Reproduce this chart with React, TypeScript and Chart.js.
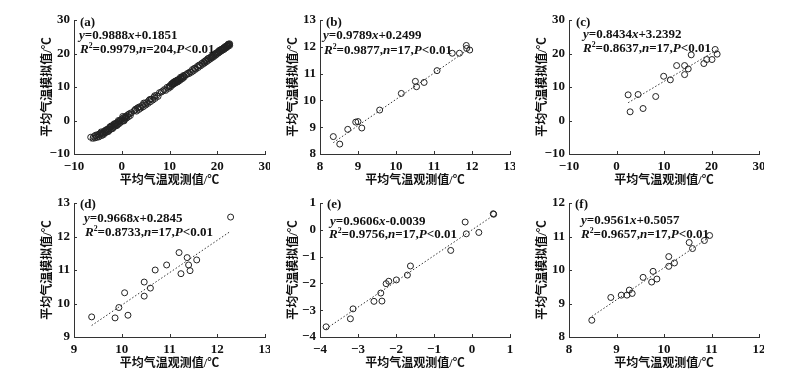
import React, { useEffect, useRef } from 'react';
import { Chart, registerables } from 'chart.js';

Chart.register(...registerables);

// ---------- data ----------
const aObs = [
  -6.5, -5.9, -5.6, -5.3, -5.0, -4.8, -4.6, -4.4, -4.2, -4.0, -3.9, -3.7, -3.5, -3.4, -3.2, -3.0, -2.9, -2.7, -2.6, -2.4,
  -2.3, -2.1, -2.0, -1.8, -1.7, -1.5, -1.4, -1.2, -1.1, -0.9, -0.8, -0.6, -0.5, -0.3, -0.2, 0.0, 0.1, 0.3, 0.4, 0.6,
  0.7, 0.9, 1.0, 1.2, 1.4, 1.6, 1.8, 2.0, -4.3, -3.3, -2.5, -1.6, -0.7, 0.2, -5.2, -3.8, -2.8, -1.9, -1.0, 0.5,
  -6.0, -5.5, -4.7, -4.1, -3.6, -3.1, -2.2, -1.3, -0.4, 0.8, 1.5,
  2.6, 2.9, 3.1, 3.3, 3.6, 3.8, 4.0, 4.3, 4.5, 4.8, 5.0, 5.2, 5.5, 5.7, 6.0, 6.2, 6.5, 6.8, 7.0, 7.3, 7.6, 7.9, 4.6, 5.9, 6.9, 3.5, 2.8,
  8.3, 8.6, 8.9, 9.2, 9.5, 9.8, 9.9,
  10.1, 10.2, 10.4, 10.5, 10.7, 10.8, 10.9, 11.0, 11.1, 11.2, 11.3, 11.4, 11.6, 11.7, 11.8, 11.9, 12.1, 12.2, 12.4, 12.5,
  12.7, 12.8, 12.9, 13.1, 13.3, 10.6, 11.5, 12.3, 13.0,
  13.6, 13.8, 14.1, 14.3, 14.6, 14.8, 15.0, 15.3, 15.5, 15.8, 16.0, 16.3, 16.5, 16.8, 17.0, 15.2, 16.1,
  17.2, 17.4, 17.6, 17.8, 18.0, 18.2, 18.4, 18.6, 18.8, 19.0, 19.2, 19.3, 19.5, 19.7, 19.9, 20.0, 20.2, 20.3, 20.5, 20.6,
  20.8, 20.9, 21.0, 21.1, 21.3, 21.4, 21.5, 21.6, 21.8, 21.9, 22.0, 22.1, 22.2, 22.3, 22.5, 22.6, 20.4, 21.2, 21.7, 19.6,
  18.9, 20.7, 22.4,
  17.5, 18.1, 18.7, 19.4, 20.1, 20.8, 21.4, 22.0, 22.3, 22.6,
];
const aSim = [
  -5.0, -4.8, -5.2, -4.6, -4.2, -4.9, -4.3, -3.8, -4.5, -3.6, -4.0, -3.2, -3.7, -3.0, -3.5, -2.6, -3.1, -2.4, -2.9, -2.0,
  -2.6, -1.8, -2.3, -1.5, -2.0, -1.2, -1.7, -0.8, -1.4, -0.6, -1.1, -0.3, -0.9, 0.1, -0.5, 0.4, -0.2, 0.8, 0.1, 1.0,
  0.5, 1.3, 0.7, 1.6, 1.1, 2.0, 1.5, 2.3, -3.4, -2.8, -1.9, -1.0, 0.0, 1.2, -5.0, -4.2, -3.3, -2.4, -1.5, -0.1,
  -5.3, -4.4, -4.0, -3.9, -3.4, -2.9, -1.6, -1.2, -0.2, 0.9, 1.9,
  2.9, 3.4, 2.8, 3.7, 3.3, 4.1, 3.7, 4.5, 4.1, 5.0, 4.6, 5.4, 5.1, 6.0, 5.6, 6.4, 6.1, 7.0, 6.6, 7.5, 7.2, 8.3, 5.2, 6.3, 7.4, 3.9, 3.1,
  8.5, 8.8, 9.2, 9.0, 9.9, 9.6, 10.1,
  10.4, 10.0, 10.9, 10.5, 11.2, 10.8, 11.5, 11.0, 11.6, 11.2, 11.8, 11.4, 12.0, 11.5, 12.2, 11.8, 12.4, 12.0, 12.7, 12.4,
  13.0, 12.6, 13.4, 13.0, 13.6, 11.0, 11.9, 12.9, 13.2,
  13.7, 14.1, 14.0, 14.5, 14.4, 15.2, 14.8, 15.6, 15.3, 16.1, 15.8, 16.6, 16.3, 17.1, 16.8, 15.5, 16.4,
  17.5, 17.2, 17.9, 17.6, 18.4, 18.0, 18.7, 18.4, 19.2, 18.8, 19.5, 19.1, 19.8, 19.5, 20.2, 19.9, 20.5, 20.2, 20.8, 20.5,
  21.1, 20.8, 21.3, 21.0, 21.6, 21.2, 21.8, 21.5, 22.0, 21.7, 22.3, 22.0, 22.5, 22.2, 22.7, 22.4, 20.9, 21.4, 22.1, 20.0,
  19.0, 21.0, 22.6,
  17.8, 18.5, 18.9, 19.7, 20.4, 21.2, 21.7, 22.2, 22.8, 22.9,
];
const bObs = [8.35, 8.52, 8.73, 8.94, 9.0, 9.1, 9.57, 10.14, 10.51, 10.54, 10.74, 11.08, 11.48, 11.67, 11.85, 11.86, 11.94];
const bSim = [8.65, 8.37, 8.92, 9.19, 9.21, 8.97, 9.64, 10.26, 10.71, 10.51, 10.67, 11.11, 11.76, 11.76, 12.05, 11.94, 11.88];
const cObs = [2.45, 2.87, 4.55, 5.59, 8.25, 9.93, 11.33, 12.66, 14.34, 14.34, 15.1, 15.73, 18.39, 19.0, 20.1, 20.77, 21.19];
const cSim = [7.66, 2.59, 7.76, 3.58, 7.16, 13.2, 12.14, 16.4, 16.4, 13.7, 15.4, 19.6, 17.0, 18.2, 18.2, 21.2, 19.8];
const dObs = [9.37, 9.86, 9.94, 10.06, 10.13, 10.47, 10.47, 10.6, 10.7, 10.94, 11.2, 11.24, 11.37, 11.4, 11.43, 11.57, 12.28];
const dSim = [9.6, 9.57, 9.88, 10.32, 9.65, 10.64, 10.22, 10.46, 11.0, 11.15, 11.52, 10.89, 11.37, 11.15, 10.98, 11.3, 12.58];
const eObs = [-3.84, -3.2, -3.13, -2.58, -2.37, -2.4, -2.26, -2.19, -1.99, -1.7, -1.62, -0.56, -0.18, -0.15, 0.18, 0.56, 0.57];
const eSim = [-3.62, -3.32, -2.95, -2.67, -2.66, -2.36, -2.01, -1.92, -1.87, -1.69, -1.35, -0.77, 0.29, -0.15, -0.1, 0.6, 0.58];
const fObs = [8.48, 8.88, 9.1, 9.22, 9.27, 9.33, 9.56, 9.74, 9.77, 9.85, 10.1, 10.1, 10.22, 10.53, 10.6, 10.85, 10.96];
const fSim = [8.5, 9.18, 9.25, 9.25, 9.4, 9.3, 9.78, 9.64, 9.96, 9.73, 10.4, 10.11, 10.21, 10.82, 10.64, 10.88, 11.03];

const panelObs = [aObs, bObs, cObs, dObs, eObs, fObs];
const panelSim = [aSim, bSim, cSim, dSim, eSim, fSim];
const panelLabels = ['(a)', '(b)', '(c)', '(d)', '(e)', '(f)'];
const slopes = ['0.9888', '0.9789', '0.8434', '0.9668', '0.9606', '0.9561'];
const intercepts = ['+0.1851', '+0.2499', '+3.2392', '+0.2845', '-0.0039', '+0.5057'];
const r2Values = ['0.9979', '0.9877', '0.8637', '0.8733', '0.9756', '0.9657'];
const nValues = ['204', '17', '17', '17', '17', '17'];
const axisMin = [-10, 8, -10, 9, -4, 8];
const axisMax = [30, 13, 30, 13, 1, 12];
const axisStep = [10, 1, 10, 1, 1, 1];
const xTitle = '平均气温观测值/℃';
const yTitle = '平均气温模拟值/℃';

// ---------- layout / style ----------
const PANEL_BOXES = [
  { L: 74, T: 20, R: 266, B: 154 },
  { L: 320, T: 20, R: 511, B: 154 },
  { L: 569, T: 20, R: 760, B: 154 },
  { L: 74, T: 203, R: 266, B: 337 },
  { L: 320, T: 203, R: 511, B: 337 },
  { L: 569, T: 203, R: 760, B: 337 },
];
const TEXT_OFFSETS = [
  { lab: [6, 3], eq: [5, 16], r2: [6, 30] },
  { lab: [6, 3], eq: [3, 16], r2: [4, 31] },
  { lab: [7, 3], eq: [14, 15], r2: [14, 29] },
  { lab: [6, 2], eq: [10, 16], r2: [11, 30] },
  { lab: [7, 2], eq: [10, 19], r2: [9, 32] },
  { lab: [6, 2], eq: [12, 18], r2: [12, 32] },
];
const Y_AXIS_W = 74;
const X_AXIS_H = 36;
const PAD_TOP = 20;
const PAD_RIGHT = 4;
const INK = '#111';
const AXIS_COLOR = '#333';
const SERIF = "'Liberation Serif', 'Times New Roman', serif";
const TITLE_FONT = "'Liberation Serif', 'Noto Sans CJK SC', serif";
const TEXT_SIZE = 13;

type Seg = { t: string; i?: boolean; sup?: boolean };

function drawRich(ctx: CanvasRenderingContext2D, x: number, y: number, segs: Seg[], size: number) {
  let cx = x;
  ctx.textBaseline = 'middle';
  ctx.textAlign = 'left';
  ctx.fillStyle = INK;
  for (const s of segs) {
    const fs = s.sup ? size * 0.6 : size;
    ctx.font = `${s.i ? 'italic ' : ''}bold ${fs}px ${SERIF}`;
    const dy = s.sup ? -size * 0.32 : 0;
    ctx.fillText(s.t, cx, y + dy);
    cx += ctx.measureText(s.t).width;
  }
}

const fmtTick = (v: number | string) => {
  const n = Number(v);
  return n < 0 ? '\u2212' + Math.abs(n) : String(n);
};

function makeDecor(idx: number) {
  return {
    id: 'decor' + idx,
    afterDraw(chart: any) {
      const ctx: CanvasRenderingContext2D = chart.ctx;
      const xs = chart.scales.x;
      const ys = chart.scales.y;
      const ca = chart.chartArea;
      ctx.save();
      ctx.strokeStyle = AXIS_COLOR;
      ctx.lineWidth = 1;
      ctx.beginPath();
      xs.ticks.forEach((t: any) => {
        const px = Math.round(xs.getPixelForValue(t.value)) + 0.5;
        ctx.moveTo(px, ca.bottom);
        ctx.lineTo(px, ca.bottom - 3);
      });
      ys.ticks.forEach((t: any) => {
        const py = Math.round(ys.getPixelForValue(t.value)) + 0.5;
        ctx.moveTo(ca.left, py);
        ctx.lineTo(ca.left + 3, py);
      });
      ctx.stroke();

      const off = TEXT_OFFSETS[idx];
      ctx.fillStyle = INK;
      ctx.font = `bold ${TEXT_SIZE}px ${SERIF}`;
      ctx.textBaseline = 'middle';
      ctx.textAlign = 'left';
      ctx.fillText(panelLabels[idx], ca.left + off.lab[0], ca.top + off.lab[1]);
      drawRich(ctx, ca.left + off.eq[0], ca.top + off.eq[1], [
        { t: 'y', i: true },
        { t: '=' + slopes[idx] },
        { t: 'x', i: true },
        { t: intercepts[idx] },
      ], TEXT_SIZE);
      drawRich(ctx, ca.left + off.r2[0], ca.top + off.r2[1], [
        { t: 'R', i: true },
        { t: '2', sup: true },
        { t: '=' + r2Values[idx] + ',' },
        { t: 'n', i: true },
        { t: '=' + nValues[idx] + ',' },
        { t: 'P', i: true },
        { t: '<0.01' },
      ], TEXT_SIZE);
      ctx.restore();
    },
  };
}

function buildConfig(idx: number): any {
  const obs = panelObs[idx];
  const sim = panelSim[idx];
  const k = parseFloat(slopes[idx]);
  const b = parseFloat(intercepts[idx]);
  const x0 = Math.min(...obs);
  const x1 = Math.max(...obs);
  const tickFont = { family: SERIF, size: 13, weight: 'bold' as const };
  const titleFont = { family: TITLE_FONT, size: 12, weight: 'bold' as const };
  const common = {
    type: 'linear',
    min: axisMin[idx],
    max: axisMax[idx],
    grid: { display: false, drawTicks: false, drawOnChartArea: false },
    border: { display: true, color: AXIS_COLOR, width: 1 },
  };
  return {
    type: 'scatter',
    data: {
      datasets: [
        {
          data: obs.map((x, i) => ({ x, y: sim[i] })),
          pointRadius: 3,
          pointBorderWidth: 1,
          pointBorderColor: '#222',
          pointBackgroundColor: 'rgba(255,255,255,0)',
          borderColor: '#222',
          backgroundColor: 'rgba(255,255,255,0)',
          showLine: false,
        },
        {
          data: [
            { x: x0, y: k * x0 + b },
            { x: x1, y: k * x1 + b },
          ],
          showLine: true,
          borderColor: '#333',
          borderWidth: 1,
          borderDash: [1.5, 2],
          pointRadius: 0,
          fill: false,
        },
      ],
    },
    options: {
      responsive: false,
      animation: false,
      devicePixelRatio: 1,
      events: [],
      layout: { padding: { left: 0, top: PAD_TOP, right: PAD_RIGHT, bottom: 0 } },
      plugins: { legend: { display: false }, tooltip: { enabled: false } },
      scales: {
        x: {
          ...common,
          position: 'bottom',
          afterFit: (s: any) => {
            s.height = X_AXIS_H;
            s.paddingLeft = 0;
            s.paddingRight = 0;
          },
          ticks: {
            stepSize: axisStep[idx],
            padding: 5,
            color: INK,
            font: tickFont,
            maxRotation: 0,
            autoSkip: false,
            callback: fmtTick,
          },
          title: { display: true, text: xTitle, color: INK, font: titleFont, padding: { top: 0, bottom: 2 } },
        },
        y: {
          ...common,
          position: 'left',
          afterFit: (s: any) => {
            s.width = Y_AXIS_W;
            s.paddingTop = 0;
            s.paddingBottom = 0;
          },
          ticks: {
            stepSize: axisStep[idx],
            padding: 4,
            color: INK,
            font: tickFont,
            autoSkip: false,
            callback: fmtTick,
          },
          title: { display: true, text: yTitle, color: INK, font: titleFont, padding: { top: 41, bottom: 0 } },
        },
      },
    },
    plugins: [makeDecor(idx)],
  };
}

export default function App() {
  const refs = useRef<(HTMLCanvasElement | null)[]>([]);

  useEffect(() => {
    const charts: Chart[] = [];
    PANEL_BOXES.forEach((_, i) => {
      const c = refs.current[i];
      if (c) charts.push(new Chart(c, buildConfig(i)));
    });
    return () => charts.forEach((c) => c.destroy());
  }, []);

  return (
    <div style={{ position: 'fixed', left: 0, top: 0, width: 810, height: 379, background: '#fff', overflow: 'hidden' }}>
      {PANEL_BOXES.map((p, i) => {
        const w = Y_AXIS_W + (p.R - p.L) + PAD_RIGHT;
        const h = PAD_TOP + (p.B - p.T) + X_AXIS_H;
        return (
          <canvas
            key={i}
            ref={(el) => {
              refs.current[i] = el;
            }}
            width={w}
            height={h}
            style={{ position: 'absolute', left: p.L - Y_AXIS_W, top: p.T - PAD_TOP, width: w, height: h, display: 'block' }}
          />
        );
      })}
    </div>
  );
}
